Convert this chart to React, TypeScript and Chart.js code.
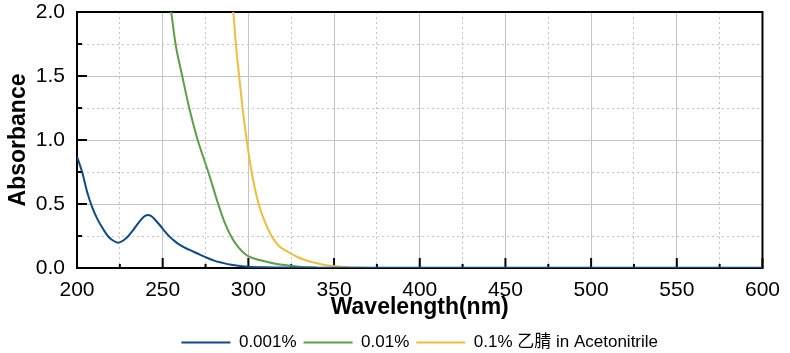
import React, { useEffect, useRef } from 'react';
import { Chart, registerables } from 'chart.js';

Chart.register(...registerables);

// ---- Data ----
const seriesLabels = ['0.001%', '0.01%', '0.1% 乙腈 in Acetonitrile'];
const seriesColors = ['#0d4a8c', '#5b9f48', '#f2bd3a'];

const wavelength001 = [200, 203, 206, 209, 212, 215, 218, 221, 224, 227, 230, 233, 236, 239, 241, 243, 245, 248, 251, 254, 257, 260, 265, 270, 275, 280, 285, 290, 295, 300, 310, 320, 340, 400, 500, 600];
const absorbance001 = [0.87, 0.75, 0.59, 0.47, 0.38, 0.31, 0.25, 0.215, 0.198, 0.215, 0.25, 0.3, 0.355, 0.4, 0.415, 0.41, 0.385, 0.34, 0.29, 0.245, 0.21, 0.18, 0.145, 0.115, 0.085, 0.058, 0.04, 0.025, 0.016, 0.01, 0.005, 0.003, 0.002, 0.001, 0.001, 0.001];

const wavelength01 = [254, 255, 257.5, 261.4, 265.5, 270, 276.6, 282.4, 286.3, 290.2, 294, 298, 302, 307.7, 315, 321, 330, 340];
const absorbance01 = [2.1, 2.0, 1.75, 1.5, 1.25, 1.02, 0.75, 0.5, 0.35, 0.24, 0.165, 0.11, 0.08, 0.058, 0.035, 0.023, 0.01, 0.004];

const wavelength1 = [290.5, 291.2, 292.7, 294.6, 296.6, 298.6, 301.9, 306, 310, 313.5, 318, 323, 328, 333, 339, 344.6, 354, 364, 370];
const absorbance1 = [2.08, 2.0, 1.75, 1.5, 1.25, 1.04, 0.75, 0.5, 0.35, 0.25, 0.17, 0.127, 0.09, 0.0625, 0.04, 0.023, 0.01, 0.003, 0.001];

const xMin = 200;
const xMax = 600;
const xMajorStep = 50;
const xMinorStep = 25;
const yMin = 0;
const yMax = 2;
const yMajorStep = 0.5;
const yMinorStep = 0.25;

const FONT = "'Liberation Sans', Arial, 'Noto Sans CJK SC', sans-serif";

const toPoints = (xs: number[], ys: number[]) => xs.map((x, i) => ({ x, y: ys[i] }));

const isMajor = (v: number, step: number) => Math.abs(v / step - Math.round(v / step)) < 1e-6;

const framePlugin = {
  id: 'frameTicks',
  beforeDatasetsDraw(chart: any) {
    const { ctx, chartArea, scales } = chart;
    const { left, right, top, bottom } = chartArea;
    const x = scales.x;
    const y = scales.y;
    ctx.save();
    ctx.strokeStyle = '#000';
    ctx.lineWidth = 2;
    ctx.strokeRect(left, top, right - left, bottom - top);
    x.ticks.forEach((t: any) => {
      const px = x.getPixelForValue(t.value);
      const len = isMajor(t.value, xMajorStep) ? 10 : 4;
      ctx.beginPath();
      ctx.moveTo(px, bottom);
      ctx.lineTo(px, bottom - len);
      ctx.stroke();
    });
    y.ticks.forEach((t: any) => {
      const py = y.getPixelForValue(t.value);
      const len = isMajor(t.value, yMajorStep) ? 10 : 5;
      ctx.beginPath();
      ctx.moveTo(left, py);
      ctx.lineTo(left + len, py);
      ctx.stroke();
    });
    ctx.restore();
  },
};

const lineDataset = (i: number, xs: number[], ys: number[]) => ({
  label: seriesLabels[i],
  data: toPoints(xs, ys),
  borderColor: seriesColors[i],
  backgroundColor: seriesColors[i],
  borderWidth: 2,
  pointRadius: 0,
  cubicInterpolationMode: 'monotone',
  fill: false,
});

export default function App() {
  const ref = useRef<HTMLCanvasElement | null>(null);

  useEffect(() => {
    document.body.style.margin = '0';
    const canvas = ref.current;
    if (!canvas) return;
    const chart = new Chart(canvas, {
      type: 'line',
      data: {
        datasets: [
          lineDataset(0, wavelength001, absorbance001),
          lineDataset(1, wavelength01, absorbance01),
          lineDataset(2, wavelength1, absorbance1),
        ],
      },
      options: {
        animation: false,
        responsive: false,
        events: [],
        layout: { padding: { left: 0, right: 27, top: 12, bottom: -8 } },
        scales: {
          x: {
            type: 'linear',
            min: xMin,
            max: xMax,
            afterFit: (s: any) => { s.height = 59; },
            ticks: {
              stepSize: xMinorStep,
              autoSkip: false,
              maxRotation: 0,
              padding: 10,
              color: '#000',
              font: { family: FONT, size: 21 },
              callback: (v: any) => (isMajor(Number(v), xMajorStep) ? String(v) : ''),
            },
            grid: {
              drawTicks: false,
              color: '#c4c4c4',
              lineWidth: 1,
            },
            border: {
              display: false,
              dash: (ctx: any) => (ctx.tick && isMajor(ctx.tick.value, xMajorStep) ? [] : [2, 3]),
            },
            title: {
              display: true,
              text: 'Wavelength(nm)',
              color: '#000',
              font: { family: FONT, size: 23, weight: 'bold' },
              padding: { top: 0, bottom: 6 },
            },
          },
          y: {
            type: 'linear',
            min: yMin,
            max: yMax,
            afterFit: (s: any) => { s.width = 77; s.paddingTop = 0; s.paddingBottom = 0; },
            ticks: {
              stepSize: yMinorStep,
              autoSkip: false,
              padding: 12,
              color: '#000',
              font: { family: FONT, size: 21 },
              callback: (v: any) => (isMajor(Number(v), yMajorStep) ? Number(v).toFixed(1) : ''),
            },
            grid: {
              drawTicks: false,
              color: '#c4c4c4',
              lineWidth: 1,
            },
            border: {
              display: false,
              dash: (ctx: any) => (ctx.tick && isMajor(ctx.tick.value, yMajorStep) ? [] : [2, 3]),
            },
            title: {
              display: true,
              text: 'Absorbance',
              color: '#000',
              font: { family: FONT, size: 23, weight: 'bold' },
              padding: { top: 5, bottom: 0 },
            },
          },
        },
        plugins: {
          legend: {
            position: 'bottom',
            fullSize: false,
            labels: {
              usePointStyle: true,
              pointStyle: 'line',
              pointStyleWidth: 49,
              padding: 7,
              color: '#000',
              font: { family: FONT, size: 17 },
            },
          },
          tooltip: { enabled: false },
        },
      },
      plugins: [framePlugin],
    } as any);
    return () => chart.destroy();
  }, []);

  return (
    <div style={{ width: 790, height: 353, background: '#fff' }}>
      <canvas ref={ref} width={790} height={353} style={{ width: 790, height: 353, display: 'block' }} />
    </div>
  );
}
